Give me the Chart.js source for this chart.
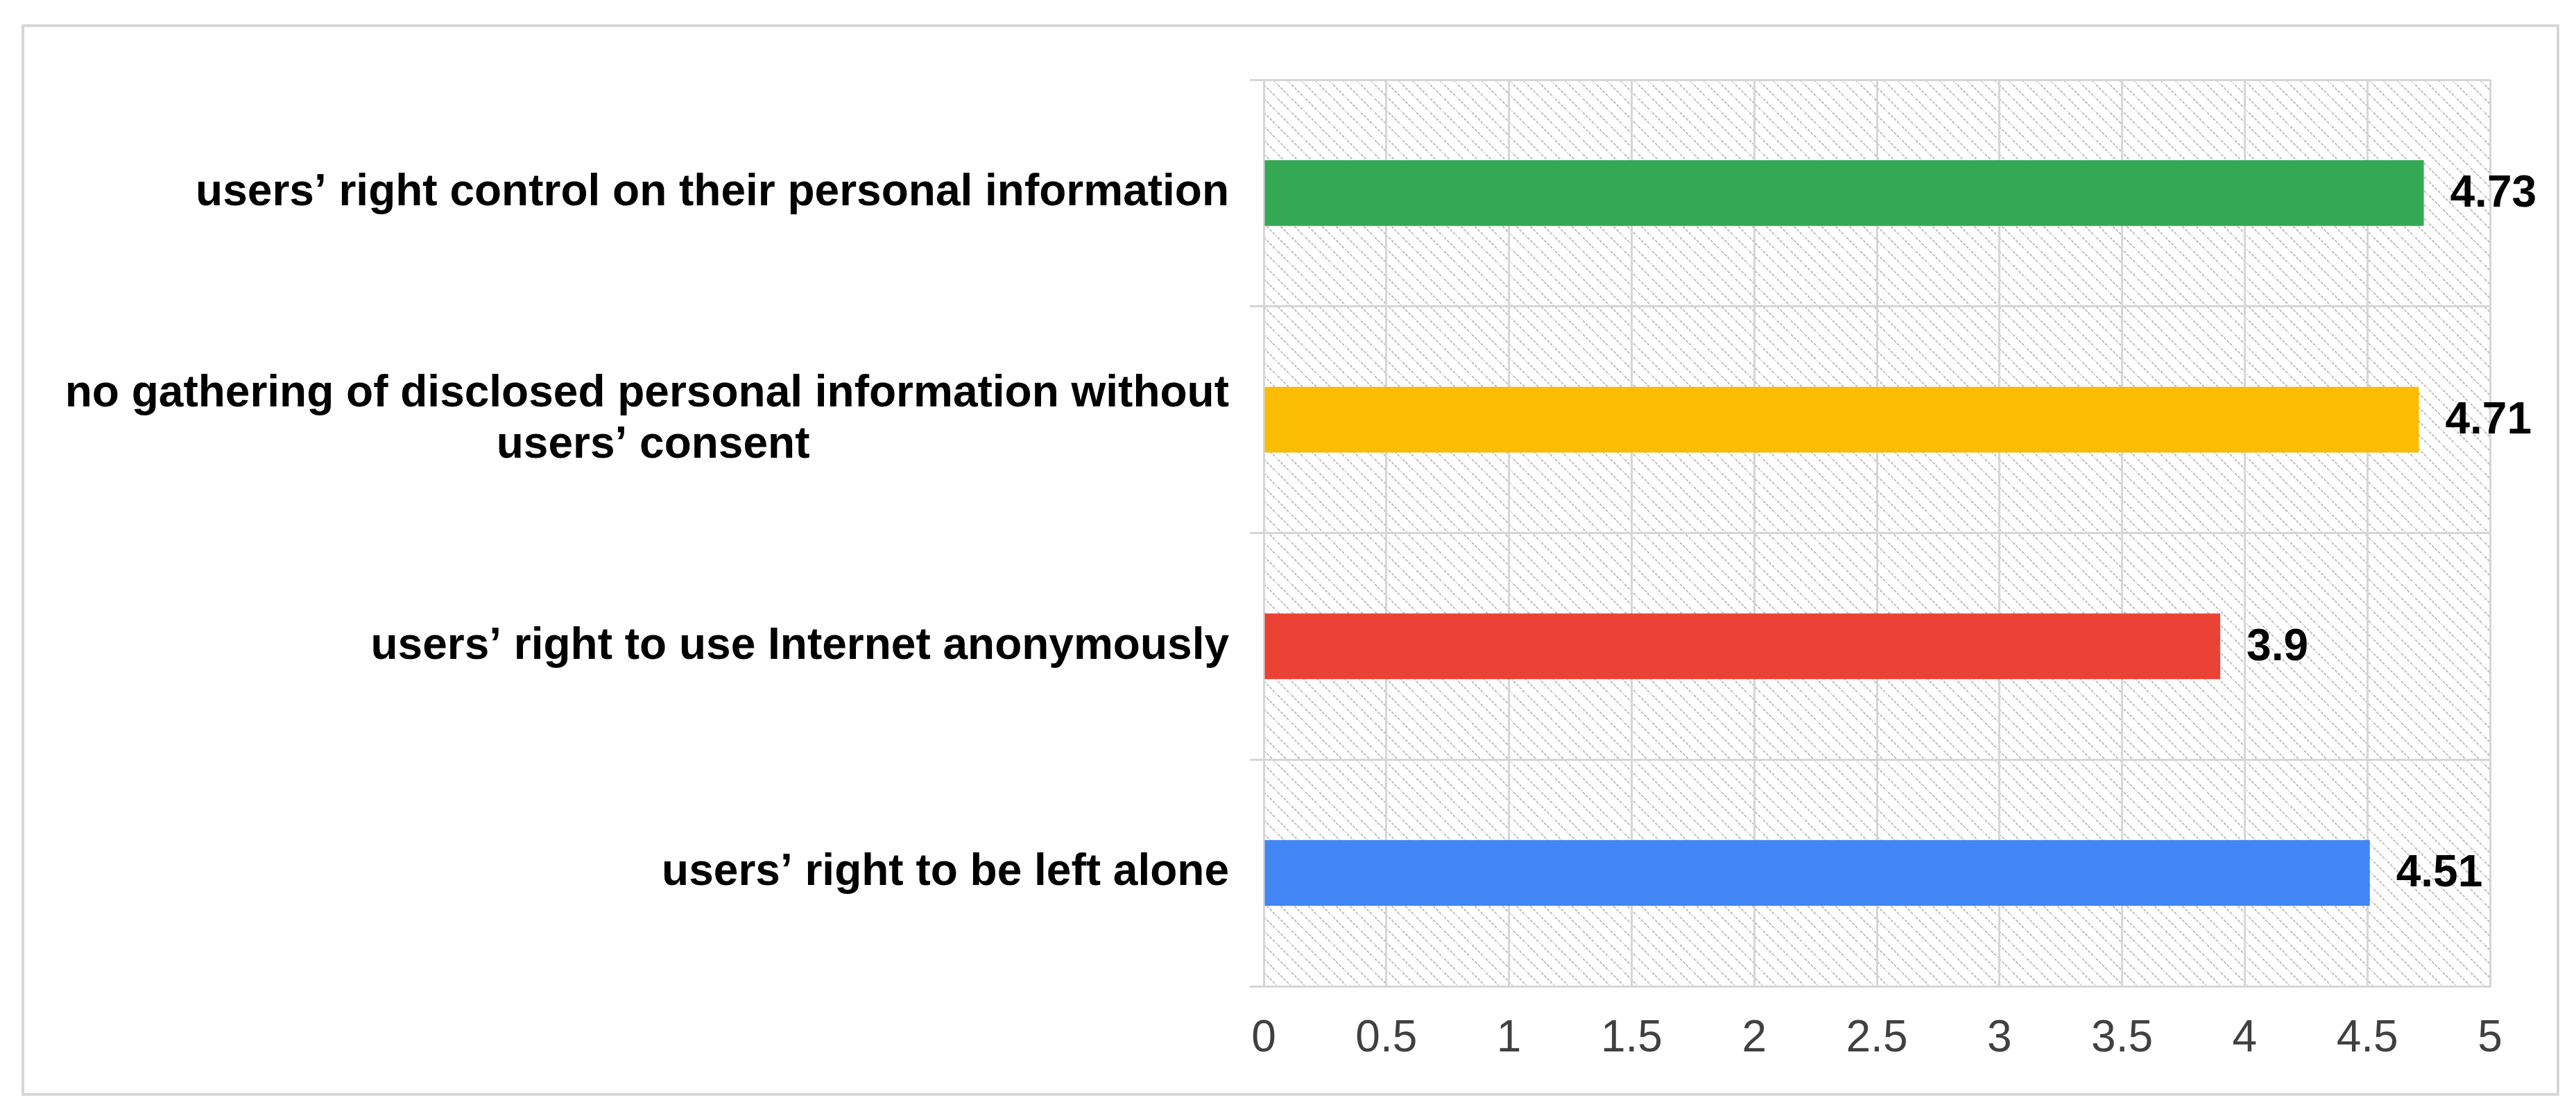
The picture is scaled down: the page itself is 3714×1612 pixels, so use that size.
<!DOCTYPE html>
<html>
<head>
<meta charset="utf-8">
<script src="https://cdn.jsdelivr.net/npm/chart.js@4"></script>
<style>
  html, body { margin: 0; padding: 0; background: #ffffff; }
  #wrap { width: 3714px; height: 1612px; position: relative; }
</style>
</head>
<body>
<div id="wrap"><canvas id="c" width="3714" height="1612"></canvas></div>
<script>
// ---- data ----
const categories = [
  'users’ right control on their personal information',
  ['no gathering of disclosed personal information without', 'users’ consent'],
  'users’ right to use Internet anonymously',
  'users’ right to be left alone'
];
const values = [4.73, 4.71, 3.9, 4.51];
const valueLabels = ['4.73', '4.71', '3.9', '4.51'];
const xTickLabels = ['0', '0.5', '1', '1.5', '2', '2.5', '3', '3.5', '4', '4.5', '5'];

// ---- styles ----
const barColors = ['#34A853', '#FBBC04', '#EA4335', '#4285F4'];
const gridColor = '#d6d6d6';
const labelFont = { family: "'Liberation Sans', Arial, sans-serif", size: 64, weight: 'bold', lineHeight: 1.15 };

// centre shorter lines of multi-line labels (right-aligned ticks) by padding with spaces
const measureCtx = document.createElement('canvas').getContext('2d');
measureCtx.font = "bold 64px 'Liberation Sans', Arial, sans-serif";
function centreLines(lbl) {
  if (!Array.isArray(lbl)) return lbl;
  const widths = lbl.map(s => measureCtx.measureText(s).width);
  const maxW = Math.max(...widths);
  const sp = measureCtx.measureText(' ').width;
  return lbl.map((s, i) => s + ' '.repeat(Math.max(0, Math.round((maxW - widths[i]) / 2 / sp))));
}

// hatch pattern for plot area
function makeHatch() {
  const t = document.createElement('canvas');
  t.width = 20; t.height = 20;
  const g = t.getContext('2d');
  g.fillStyle = '#ffffff';
  g.fillRect(0, 0, 20, 20);
  g.strokeStyle = '#b9b9b9';
  g.lineWidth = 1.8;
  g.setLineDash([4, 2]);
  g.beginPath();
  g.moveTo(-2, -2); g.lineTo(22, 22);
  g.moveTo(-12, 8); g.lineTo(2, 22);
  g.moveTo(8, -12); g.lineTo(22, 2);
  g.stroke();
  return t;
}

const backgroundPlugin = {
  id: 'bg',
  beforeDraw(chart) {
    const { ctx, chartArea: a } = chart;
    ctx.save();
    ctx.fillStyle = '#ffffff';
    ctx.fillRect(0, 0, chart.width, chart.height);
    ctx.fillStyle = ctx.createPattern(makeHatch(), 'repeat');
    ctx.fillRect(a.left, a.top, a.right - a.left, a.bottom - a.top);
    ctx.strokeStyle = gridColor;
    ctx.lineWidth = 4;
    ctx.strokeRect(33, 37, 3655, 1541);
    ctx.restore();
  }
};

const valueLabelPlugin = {
  id: 'valueLabels',
  afterDatasetsDraw(chart) {
    const { ctx } = chart;
    const meta = chart.getDatasetMeta(0);
    ctx.save();
    ctx.fillStyle = '#000000';
    ctx.font = "bold 64px 'Liberation Sans', Arial, sans-serif";
    ctx.textAlign = 'left';
    ctx.textBaseline = 'middle';
    meta.data.forEach((bar, i) => {
      ctx.fillText(valueLabels[i], bar.x + 38, bar.y + 2);
    });
    ctx.restore();
  }
};

new Chart(document.getElementById('c'), {
  type: 'bar',
  data: {
    labels: categories,
    datasets: [{
      data: values,
      backgroundColor: barColors,
      borderWidth: 0,
      barPercentage: 0.29,
      categoryPercentage: 1.0
    }]
  },
  options: {
    indexAxis: 'y',
    responsive: false,
    animation: false,
    devicePixelRatio: 1,
    layout: { padding: { top: 115, right: 124, left: 0, bottom: 0 } },
    plugins: { legend: { display: false }, tooltip: { enabled: false } },
    scales: {
      x: {
        min: 0, max: 5,
        afterBuildTicks(scale) {
          scale.ticks = xTickLabels.map((t, i) => ({ value: i * 0.5 }));
        },
        afterFit(scale) { scale.height = 190; },
        grid: { color: gridColor, lineWidth: 3, drawTicks: false },
        border: { color: gridColor, width: 3 },
        ticks: {
          padding: 38,
          color: '#404040',
          font: { family: "'Liberation Sans', Arial, sans-serif", size: 64 },
          maxRotation: 0,
          autoSkip: false,
          callback: (v, i) => xTickLabels[i]
        }
      },
      y: {
        afterFit(scale) { scale.width = 1822; },
        grid: { color: gridColor, lineWidth: 3, tickLength: 20, offset: true },
        border: { color: gridColor, width: 3 },
        ticks: {
          padding: 30,
          color: '#000000',
          font: labelFont,
          autoSkip: false,
          callback: function (v, i) { return centreLines(categories[i]); }
        }
      }
    }
  },
  plugins: [backgroundPlugin, valueLabelPlugin]
});
</script>
</body>
</html>
